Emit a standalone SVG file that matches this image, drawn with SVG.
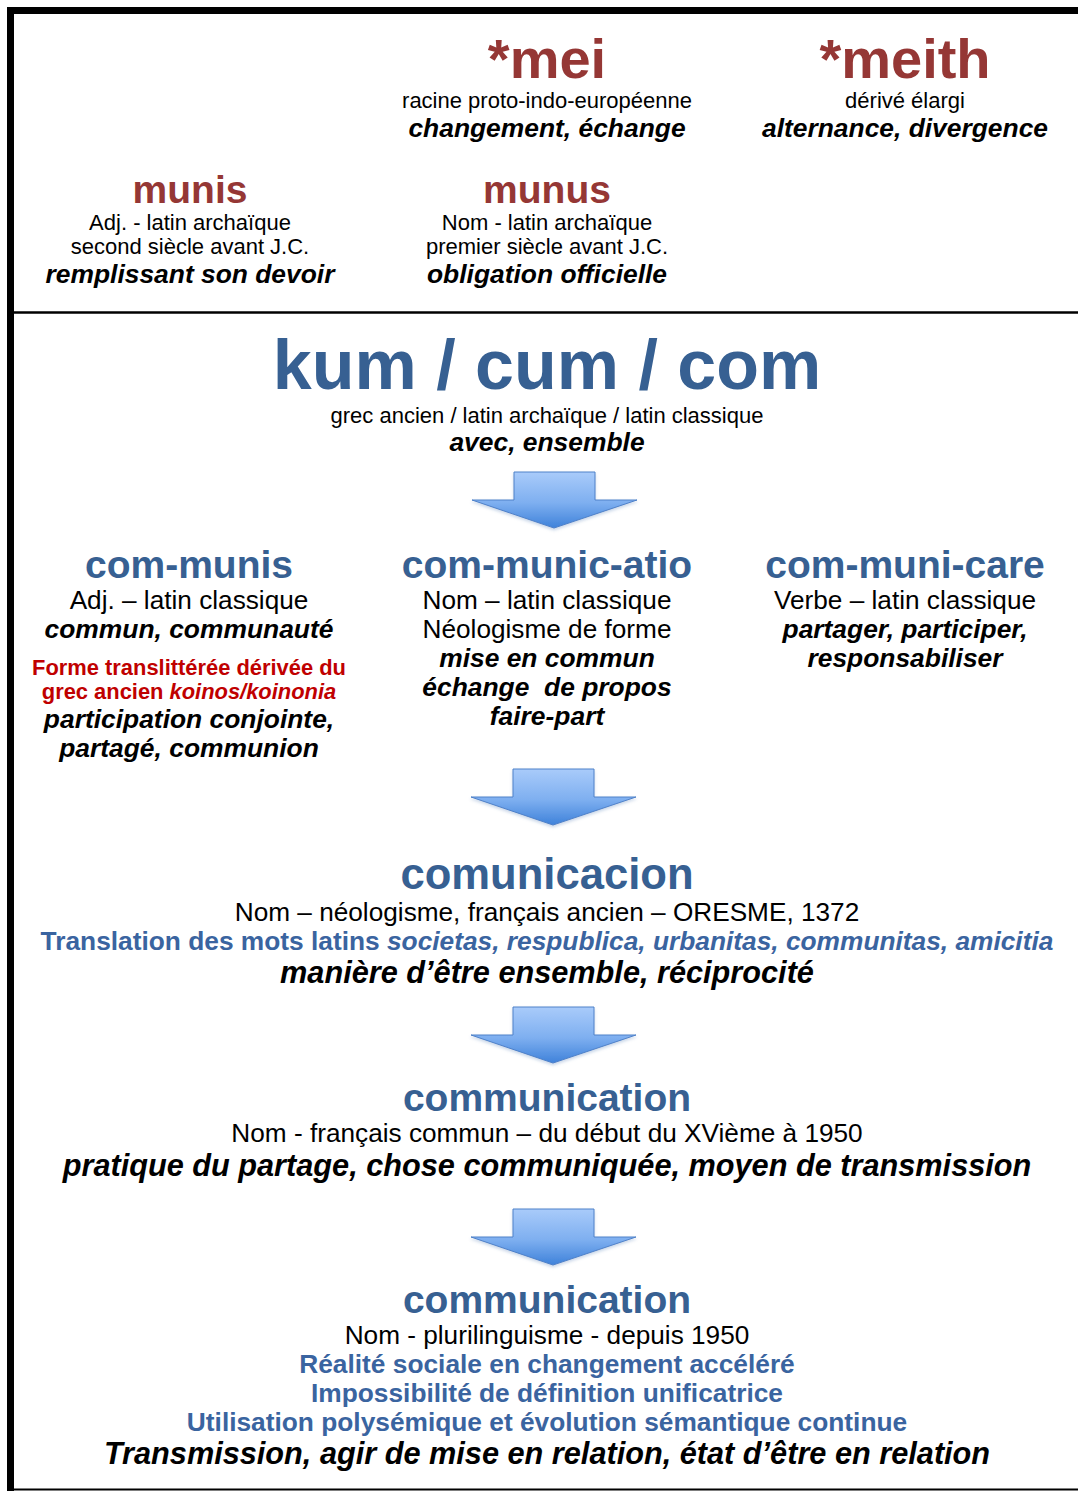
<svg xmlns="http://www.w3.org/2000/svg" width="1078" height="1491" viewBox="0 0 1078 1491">
  <style>
    text { font-family: "Liberation Sans", Arial, sans-serif; text-anchor: middle; fill: #000; }
    .root { font-size: 56px; font-weight: bold; fill: #953735; }
    .latin { font-size: 39px; font-weight: bold; fill: #953735; }
    .head { font-size: 39px; font-weight: bold; fill: #376092; }
    .head43 { font-size: 43.6px; font-weight: bold; fill: #376092; }
    .big { font-size: 70px; font-weight: bold; fill: #376092; }
    .s22 { font-size: 22px; }
    .s26 { font-size: 26.2px; }
    .bi26 { font-size: 26.4px; font-weight: bold; font-style: italic; }
    .bi30 { font-size: 30.7px; font-weight: bold; font-style: italic; }
    .red { font-size: 21.9px; font-weight: bold; fill: #c00000; }
    .blue { font-size: 26.3px; font-weight: bold; fill: #3a64a0; }
    .it { font-style: italic; }
    .arrow { fill: url(#arrowFill); stroke: #4f81c9; stroke-width: 1; filter: url(#soft); }
  </style>
  <defs>
    <linearGradient id="arrowFill" x1="0" y1="0" x2="0" y2="1">
      <stop offset="0" stop-color="#a9cbfa"/>
      <stop offset="0.55" stop-color="#7eaff0"/>
      <stop offset="1" stop-color="#3f82da"/>
    </linearGradient>
    <filter id="soft" x="-10%" y="-10%" width="120%" height="140%">
      <feGaussianBlur in="SourceAlpha" stdDeviation="1.5"/>
      <feOffset dy="1.5" result="b"/>
      <feFlood flood-color="#6a8fc0" flood-opacity="0.35"/>
      <feComposite in2="b" operator="in"/>
      <feMerge><feMergeNode/><feMergeNode in="SourceGraphic"/></feMerge>
    </filter>
    <!-- block arrow pointing down, origin at top-left of the shaft -->
    <path id="downArrow" d="M0,0 H81 V28 H123 L40,56 L-42,28 H0 Z"/>
  </defs>

  <rect width="1078" height="1491" fill="#fff"/>

  <!-- frame -->
  <g id="frame">
    <rect x="7" y="7" width="1071" height="7" fill="#000"/>
    <rect x="7" y="7" width="7" height="1484" fill="#000"/>
    <line x1="14" y1="312.5" x2="1078" y2="312.5" stroke="#000" stroke-width="2.5"/>
    <line x1="14" y1="1489.5" x2="1078" y2="1489.5" stroke="#000" stroke-width="2"/>
  </g>

  <g id="mei">
    <text class="root" x="547" y="78">*mei</text>
    <text class="s22" x="547" y="108">racine proto-indo-européenne</text>
    <text class="bi26" x="547" y="137">changement, échange</text>
  </g>

  <g id="meith">
    <text class="root" x="905" y="78">*meith</text>
    <text class="s22" x="905" y="108">dérivé élargi</text>
    <text class="bi26" x="905" y="137">alternance, divergence</text>
  </g>

  <g id="munis">
    <text class="latin" x="190" y="203">munis</text>
    <text class="s22" x="190" y="230">Adj. - latin archaïque</text>
    <text class="s22" x="190" y="254">second siècle avant J.C.</text>
    <text class="bi26" x="190" y="283">remplissant son devoir</text>
  </g>

  <g id="munus">
    <text class="latin" x="547" y="203">munus</text>
    <text class="s22" x="547" y="230">Nom - latin archaïque</text>
    <text class="s22" x="547" y="254">premier siècle avant J.C.</text>
    <text class="bi26" x="547" y="283">obligation officielle</text>
  </g>

  <g id="kum-cum-com">
    <text class="big" x="547" y="389">kum / cum / com</text>
    <text class="s22" x="547" y="423">grec ancien / latin archaïque / latin classique</text>
    <text class="bi26" x="547" y="451">avec, ensemble</text>
  </g>

  <g id="com-munis">
    <text class="head" x="189" y="578">com-munis</text>
    <text class="s26" x="189" y="609">Adj. – latin classique</text>
    <text class="bi26" x="189" y="638">commun, communauté</text>
    <text class="red" x="189" y="675">Forme translittérée dérivée du</text>
    <text class="red" x="189" y="699">grec ancien <tspan class="it">koinos/koinonia</tspan></text>
    <text class="bi26" x="189" y="728">participation conjointe,</text>
    <text class="bi26" x="189" y="757">partagé, communion</text>
  </g>

  <g id="com-munic-atio">
    <text class="head" x="547" y="578">com-munic-atio</text>
    <text class="s26" x="547" y="609">Nom – latin classique</text>
    <text class="s26" x="547" y="638">Néologisme de forme</text>
    <text class="bi26" x="547" y="667">mise en commun</text>
    <text class="bi26" x="547" y="696" xml:space="preserve">échange  de propos</text>
    <text class="bi26" x="547" y="725">faire-part</text>
  </g>

  <g id="com-muni-care">
    <text class="head" x="905" y="578">com-muni-care</text>
    <text class="s26" x="905" y="609">Verbe – latin classique</text>
    <text class="bi26" x="905" y="638">partager, participer,</text>
    <text class="bi26" x="905" y="667">responsabiliser</text>
  </g>

  <g id="comunicacion">
    <text class="head43" x="547" y="889">comunicacion</text>
    <text class="s26" x="547" y="921">Nom – néologisme, français ancien – ORESME, 1372</text>
    <text class="blue" x="547" y="950">Translation des mots latins <tspan class="it">societas, respublica, urbanitas, communitas, amicitia</tspan></text>
    <text class="bi30" x="547" y="983">manière d’être ensemble, réciprocité</text>
  </g>

  <g id="communication-classique">
    <text class="head" x="547" y="1111">communication</text>
    <text class="s26" x="547" y="1142">Nom - français commun – du début du XVième à 1950</text>
    <text class="bi30" x="547" y="1176">pratique du partage, chose communiquée, moyen de transmission</text>
  </g>

  <g id="communication-moderne">
    <text class="head" x="547" y="1313">communication</text>
    <text class="s26" x="547" y="1344">Nom - plurilinguisme - depuis 1950</text>
    <text class="blue" x="547" y="1373">Réalité sociale en changement accéléré</text>
    <text class="blue" x="547" y="1402">Impossibilité de définition unificatrice</text>
    <text class="blue" x="547" y="1431">Utilisation polysémique et évolution sémantique continue</text>
    <text class="bi30" x="547" y="1464">Transmission, agir de mise en relation, état d’être en relation</text>
  </g>

  <!-- connectors: block arrows between the stages -->
  <g id="connectors">
    <use href="#downArrow" class="arrow" transform="translate(514,472)"/>
    <use href="#downArrow" class="arrow" transform="translate(513,769)"/>
    <use href="#downArrow" class="arrow" transform="translate(513,1007)"/>
    <use href="#downArrow" class="arrow" transform="translate(513,1209)"/>
  </g>
</svg>
